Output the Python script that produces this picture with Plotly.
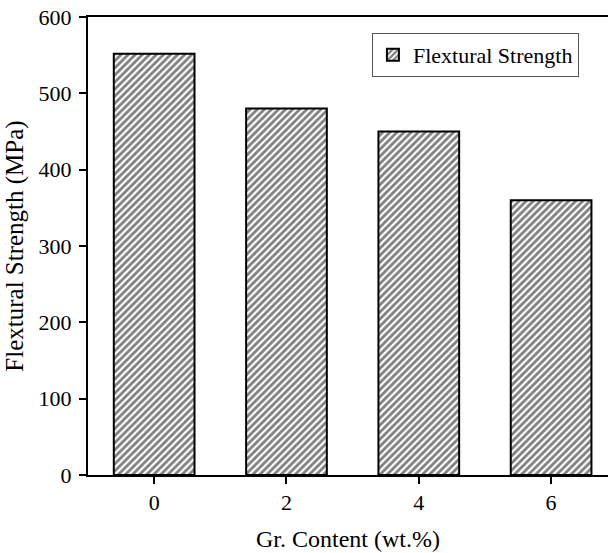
import plotly.graph_objects as go

gr_content = [0, 2, 4, 6]
flexural_strength = [552, 480, 450, 360]
series_name = "Flextural Strength"
x_title = "Gr. Content (wt.%)"
y_title = "Flextural Strength (MPa)"
y_ticks = [0, 100, 200, 300, 400, 500, 600]
x_ticks = [0, 2, 4, 6]

font_family = "Liberation Serif, Times New Roman, serif"

fig = go.Figure()
fig.add_trace(go.Bar(
    x=gr_content,
    y=flexural_strength,
    name=series_name,
    width=1.22,
    marker=dict(
        color="white",
        line=dict(color="black", width=2),
        pattern=dict(shape="/", fgcolor="black", bgcolor="white", size=5, solidity=0.55),
    ),
    showlegend=True,
))

fig.update_layout(
    width=608,
    height=553,
    margin=dict(l=88, r=0, t=17, b=78),
    paper_bgcolor="white",
    plot_bgcolor="white",
    font=dict(family=font_family, size=22, color="black"),
    showlegend=True,
    legend=dict(
        x=0.546, y=0.965, xanchor="left", yanchor="top",
        bgcolor="white", bordercolor="#555555", borderwidth=1,
        font=dict(family=font_family, size=22, color="black"),
        itemsizing="constant",
    ),
    xaxis=dict(
        range=[-1, 6.86],
        tickmode="array", tickvals=x_ticks, ticktext=[str(v) for v in x_ticks],
        ticks="outside", ticklen=7, tickwidth=1.5, tickcolor="black",
        tickfont=dict(family=font_family, size=22),
        showline=True, linecolor="black", linewidth=2, mirror=True,
        showgrid=False, zeroline=False,
        title=dict(text=x_title, standoff=16, font=dict(family=font_family, size=24)),
    ),
    yaxis=dict(
        range=[0, 600],
        tickmode="array", tickvals=y_ticks, ticktext=[str(v) for v in y_ticks],
        ticks="outside", ticklen=7, tickwidth=1.5, tickcolor="black",
        tickfont=dict(family=font_family, size=22),
        ticklabelstandoff=3,
        showline=True, linecolor="black", linewidth=2, mirror=False,
        showgrid=False, zeroline=False,
        title=dict(text=y_title, standoff=8, font=dict(family=font_family, size=25)),
    ),
)

fig.write_html("out.html")
